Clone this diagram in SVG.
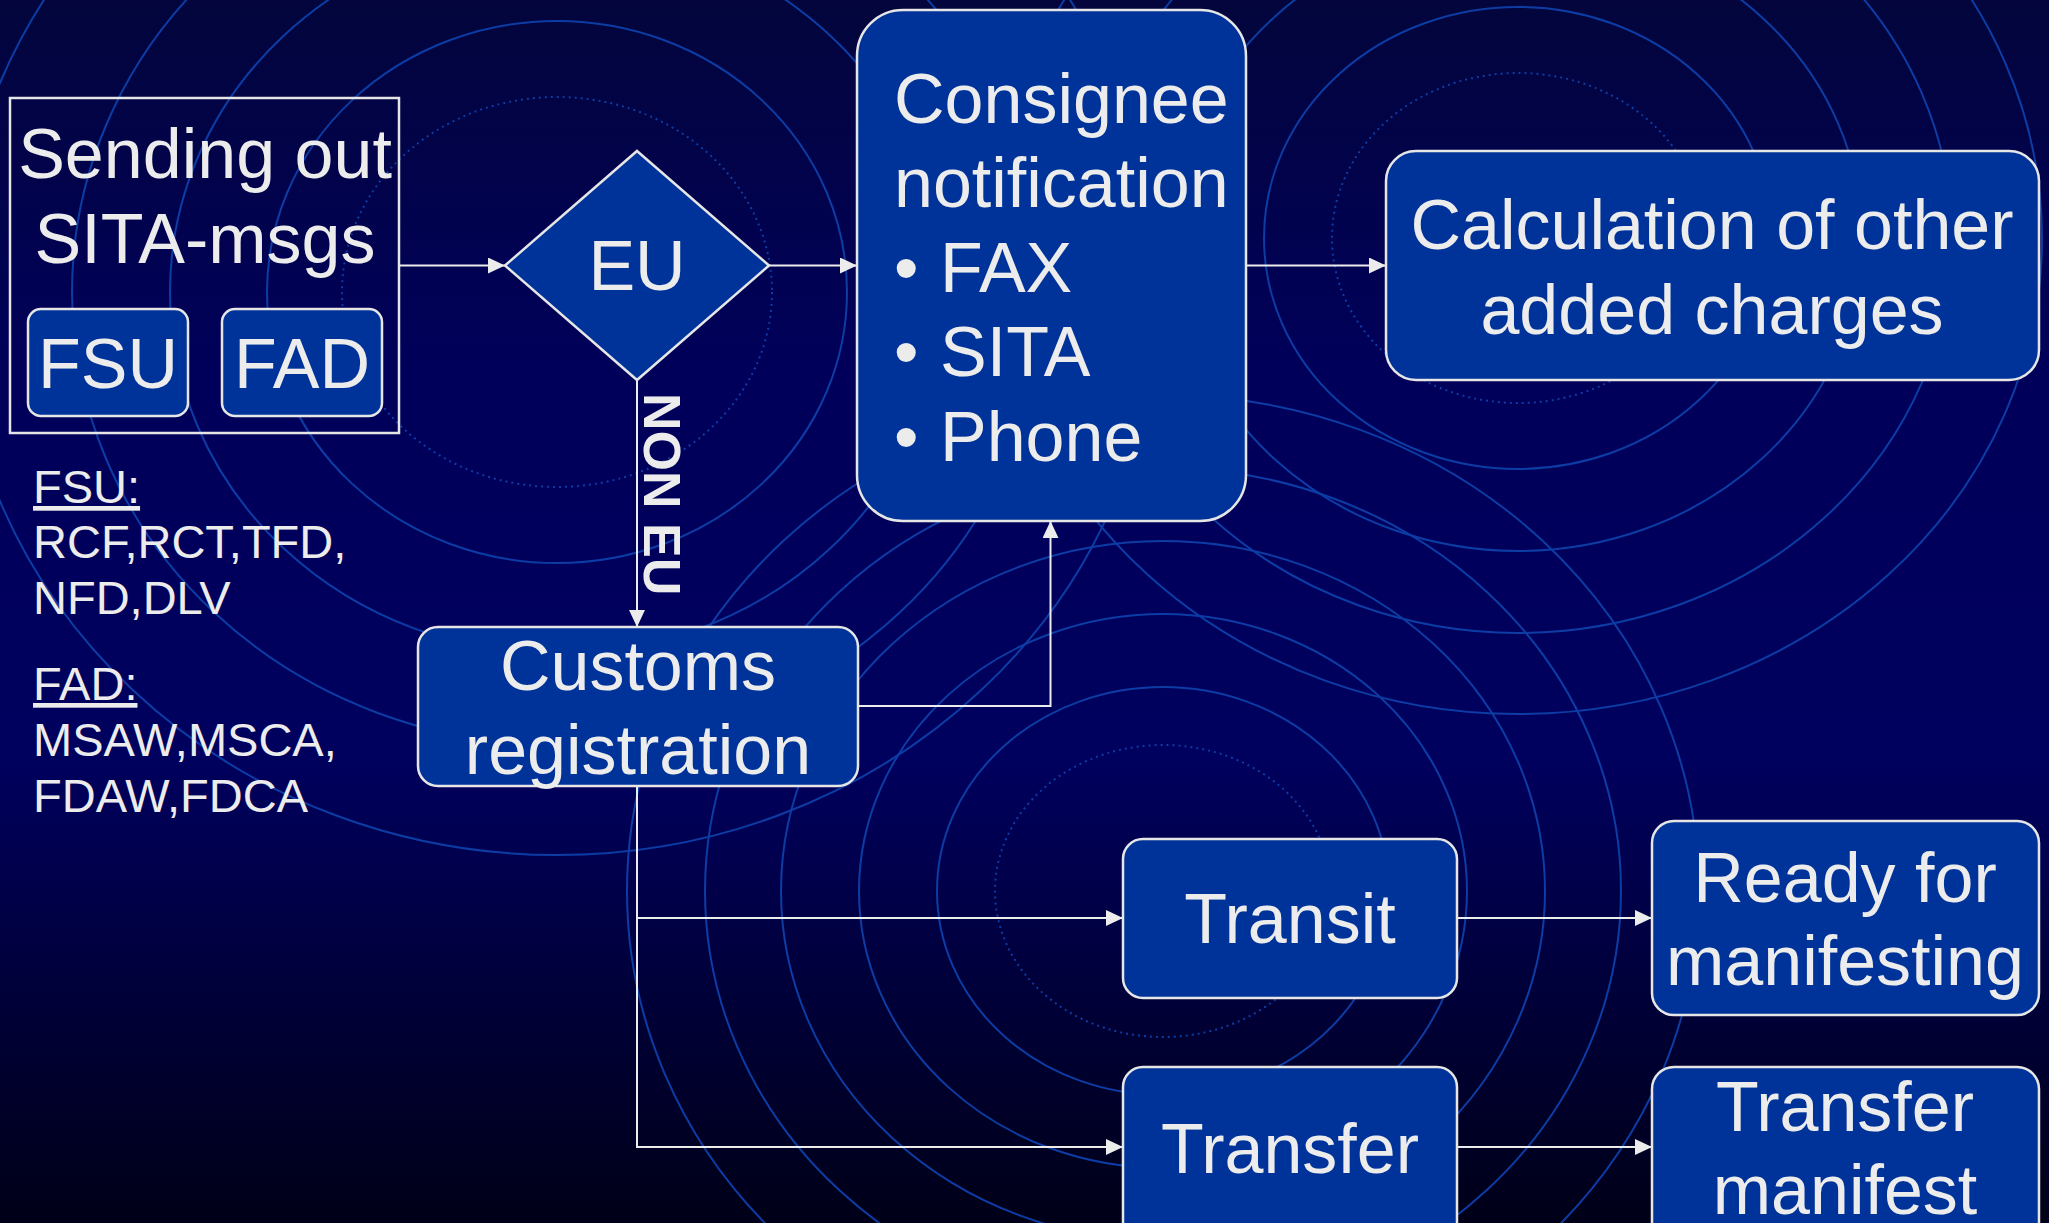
<svg xmlns="http://www.w3.org/2000/svg" width="2049" height="1223" viewBox="0 0 2049 1223">
<defs>
<linearGradient id="bg" x1="0" y1="0" x2="0" y2="1">
<stop offset="0" stop-color="#03053c"/>
<stop offset="0.3" stop-color="#00005a"/>
<stop offset="0.62" stop-color="#00005e"/>
<stop offset="0.82" stop-color="#000038"/>
<stop offset="1" stop-color="#000018"/>
</linearGradient>
<marker id="ah" viewBox="0 0 17 16" refX="17" refY="8" markerWidth="17" markerHeight="16" markerUnits="userSpaceOnUse" orient="auto">
<path d="M0,0 L17,8 L0,16 z" fill="#ececec"/>
</marker>
<style>
.ring{fill:none;stroke:#0c3ca4;stroke-width:2}
.dot{fill:none;stroke:#0c3ca4;stroke-width:2;stroke-dasharray:2 4}
.box{fill:#003399;stroke:#e6e6e6;stroke-width:2.5}
.t{font-family:"Liberation Sans",Arial,sans-serif;fill:#ececec;font-size:70px}
.c{text-anchor:middle}
.s{font-family:"Liberation Sans",Arial,sans-serif;fill:#ececec;font-size:47px}
.con{fill:none;stroke:#ececec;stroke-width:2}
</style>
</defs>
<rect x="0" y="0" width="2049" height="1223" fill="url(#bg)"/>
<g id="background-rings">
<ellipse class="dot" cx="557" cy="292" rx="215" ry="195"/>
<ellipse class="ring" cx="557" cy="292" rx="290" ry="271"/>
<ellipse class="ring" cx="557" cy="292" rx="387" ry="362"/>
<ellipse class="ring" cx="557" cy="292" rx="485" ry="453"/>
<ellipse class="ring" cx="557" cy="292" rx="600" ry="563"/>
<ellipse class="dot" cx="1518" cy="238" rx="186" ry="165"/>
<ellipse class="ring" cx="1518" cy="238" rx="254" ry="231"/>
<ellipse class="ring" cx="1518" cy="238" rx="344" ry="313"/>
<ellipse class="ring" cx="1518" cy="238" rx="434" ry="395"/>
<ellipse class="ring" cx="1518" cy="238" rx="524" ry="476"/>
<ellipse class="dot" cx="1163" cy="891" rx="168" ry="146"/>
<ellipse class="ring" cx="1163" cy="891" rx="226" ry="204"/>
<ellipse class="ring" cx="1163" cy="891" rx="304" ry="277"/>
<ellipse class="ring" cx="1163" cy="891" rx="382" ry="350"/>
<ellipse class="ring" cx="1163" cy="891" rx="458" ry="423"/>
<ellipse class="ring" cx="1163" cy="891" rx="536" ry="496"/>
</g>
<g id="connectors">
<path class="con" d="M399 265.5 H505" marker-end="url(#ah)"/>
<path class="con" d="M769 265.5 H857" marker-end="url(#ah)"/>
<path class="con" d="M1246 265.5 H1386" marker-end="url(#ah)"/>
<path class="con" d="M637 380 V627" marker-end="url(#ah)"/>
<path class="con" d="M858 706 H1050.5 V521" marker-end="url(#ah)"/>
<path class="con" d="M637 786 V1147 H1123" marker-end="url(#ah)"/>
<path class="con" d="M637 918 H1123" marker-end="url(#ah)"/>
<path class="con" d="M1457 918 H1652" marker-end="url(#ah)"/>
<path class="con" d="M1457 1147 H1652" marker-end="url(#ah)"/>
<text class="t" font-weight="bold" font-size="52" transform="translate(644,393) rotate(90)" style="font-size:52px">NON EU</text>
</g>
<g id="sending-out">
<rect x="10" y="98" width="389" height="335" fill="none" stroke="#e6e6e6" stroke-width="2.5"/>
<text class="t c" x="205" y="178">Sending out</text>
<text class="t c" x="205" y="263">SITA-msgs</text>
</g>
<g id="fsu">
<rect class="box" x="28" y="309" width="160" height="107" rx="13"/>
<text class="t c" x="108" y="388">FSU</text>
</g>
<g id="fad">
<rect class="box" x="222" y="309" width="160" height="107" rx="13"/>
<text class="t c" x="302" y="388">FAD</text>
</g>
<g id="eu">
<polygon class="box" points="637,151 769,265.5 637,380 505,265.5"/>
<text class="t c" x="637" y="290">EU</text>
</g>
<g id="legend">
<text class="s" x="33" y="503" text-decoration="underline">FSU:</text>
<text class="s" x="33" y="558">RCF,RCT,TFD,</text>
<text class="s" x="33" y="614">NFD,DLV</text>
<text class="s" x="33" y="700" text-decoration="underline">FAD:</text>
<text class="s" x="33" y="756">MSAW,MSCA,</text>
<text class="s" x="33" y="812">FDAW,FDCA</text>
</g>
<g id="consignee">
<rect class="box" x="857" y="10" width="389" height="511" rx="46"/>
<text class="t" x="894" y="122.5">Consignee</text>
<text class="t" x="894" y="207">notification</text>
<text class="t" y="291.5"><tspan x="894">•</tspan><tspan x="940">FAX</tspan></text>
<text class="t" y="376"><tspan x="894">•</tspan><tspan x="940">SITA</tspan></text>
<text class="t" y="461"><tspan x="894">•</tspan><tspan x="940">Phone</tspan></text>
</g>
<g id="calculation">
<rect class="box" x="1386" y="151" width="653" height="229" rx="30"/>
<text class="t c" x="1712" y="249">Calculation of other</text>
<text class="t c" x="1712" y="334">added charges</text>
</g>
<g id="customs">
<rect class="box" x="418" y="627" width="440" height="159" rx="20"/>
<text class="t c" x="638" y="690">Customs</text>
<text class="t c" x="638" y="774">registration</text>
</g>
<g id="transit">
<rect class="box" x="1123" y="839" width="334" height="159" rx="20"/>
<text class="t c" x="1290" y="943">Transit</text>
</g>
<g id="ready">
<rect class="box" x="1652" y="821" width="387" height="194" rx="22"/>
<text class="t c" x="1845" y="902">Ready for</text>
<text class="t c" x="1845" y="985">manifesting</text>
</g>
<g id="transfer">
<rect class="box" x="1123" y="1067" width="334" height="200" rx="20"/>
<text class="t c" x="1290" y="1173">Transfer</text>
</g>
<g id="transfer-manifest">
<rect class="box" x="1652" y="1067" width="387" height="200" rx="22"/>
<text class="t c" x="1845" y="1131">Transfer</text>
<text class="t c" x="1845" y="1214">manifest</text>
</g>
</svg>
